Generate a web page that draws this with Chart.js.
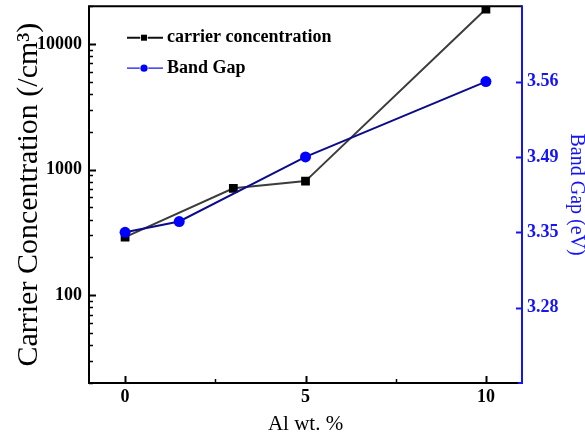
<!DOCTYPE html>
<html><head><meta charset="utf-8">
<script src="https://cdn.jsdelivr.net/npm/chart.js@4/dist/chart.umd.min.js"></script>
<style>html,body{margin:0;padding:0;background:#fff;}#wrap{width:585px;height:437px;}</style>
</head><body><div id="wrap"><canvas id="c" width="585" height="437"></canvas></div>
<script>
// ---- data ----
const AL_WT_CARRIER = [0, 3, 5, 10];
const CARRIER_CONC = [290, 710, 810, 19000];
const AL_WT_BANDGAP = [0, 1.5, 5, 10];
const BAND_GAP = [3.35, 3.37, 3.49, 3.56];
// ---- ticks ----
const X_TICKS = [0, 2.5, 5, 7.5, 10];
const X_TICK_LABELS = [0, 5, 10];
const X_RANGE = [-1, 11];
const Y_RANGE = [20, 20000];
const Y_TICK_LABELS = [100, 1000, 10000];
const BAND_BREAKS = [3.21, 3.28, 3.35, 3.49, 3.56, 3.63];
const BAND_TICK_LABELS = [3.28, 3.35, 3.49, 3.56];

const SERIF = "'Liberation Serif', 'Times New Roman', serif";
const BLUE = '#1414f5';

const LinearScale = Chart.LinearScale || Chart.registry.getScale('linear');
class BreakScale extends LinearScale {
  getPixelForValue(v) {
    if (v === null || v === undefined) return NaN;
    const b = BAND_BREAKS, n = b.length - 1;
    let i = 0;
    while (i < n - 1 && v > b[i + 1]) i++;
    return this.getPixelForDecimal((i + (v - b[i]) / (b[i + 1] - b[i])) / n);
  }
  getValueForPixel(p) {
    const b = BAND_BREAKS, n = b.length - 1;
    const d = this.getDecimalForPixel(p) * n;
    const i = Math.max(0, Math.min(n - 1, Math.floor(d)));
    return b[i] + (d - i) * (b[i + 1] - b[i]);
  }
}
BreakScale.id = 'breakLinear';
BreakScale.defaults = {};
Chart.register(BreakScale);

function zeroPad(s) { s.paddingTop = 0; s.paddingBottom = 0; s.paddingLeft = 0; s.paddingRight = 0; }

const framePlugin = {
  id: 'frame',
  afterDraw(chart) {
    const { ctx, chartArea: { left, right, top, bottom }, scales } = chart;
    ctx.save();
    ctx.lineCap = 'butt';
    // ticks
    ctx.strokeStyle = '#000';
    const yS = scales.y;
    for (let d = 10; d <= 10000; d *= 10) {
      for (let m = 1; m <= 9; m++) {
        const v = m * d;
        if (v < Y_RANGE[0] || v > Y_RANGE[1]) continue;
        const major = Y_TICK_LABELS.includes(v);
        const py = Math.round(yS.getPixelForValue(v)) + 0.5;
        ctx.lineWidth = major ? 2 : 1.5;
        ctx.beginPath(); ctx.moveTo(left, py); ctx.lineTo(left + (major ? 7 : 4), py); ctx.stroke();
      }
    }
    const xS = scales.x;
    X_TICKS.forEach(v => {
      const major = X_TICK_LABELS.includes(v);
      const px = Math.round(xS.getPixelForValue(v)) + 0.5;
      ctx.lineWidth = major ? 2 : 1.5;
      ctx.beginPath(); ctx.moveTo(px, bottom); ctx.lineTo(px, bottom - (major ? 7 : 4)); ctx.stroke();
    });
    const y2 = scales.y2;
    ctx.strokeStyle = BLUE;
    BAND_TICK_LABELS.forEach(v => {
      const py = Math.round(y2.getPixelForValue(v)) + 0.5;
      ctx.lineWidth = 2;
      ctx.beginPath(); ctx.moveTo(right, py); ctx.lineTo(right - 6, py); ctx.stroke();
    });
    // frame
    ctx.lineWidth = 2;
    ctx.strokeStyle = '#000';
    ctx.beginPath(); ctx.moveTo(right, top); ctx.lineTo(left, top); ctx.lineTo(left, bottom); ctx.lineTo(right - 4, bottom); ctx.stroke();
    ctx.strokeStyle = BLUE;
    ctx.beginPath(); ctx.moveTo(right - 4, bottom); ctx.lineTo(right, bottom); ctx.lineTo(right, top - 1); ctx.stroke();
    ctx.restore();
  }
};

const legendPlugin = {
  id: 'innerLegend',
  afterDatasetsDraw(chart) {
    const { ctx, chartArea: { left, top } } = chart;
    const ds = chart.data.datasets;
    const x0 = left + 38, x1 = left + 74, xm = left + 55, tx = left + 78;
    const rows = [top + 31.5, top + 62];
    ctx.save();
    ds.forEach((d, i) => {
      const y = rows[i];
      ctx.strokeStyle = i === 0 ? '#111' : BLUE;
      ctx.lineWidth = i === 0 ? 2 : 1.2;
      ctx.beginPath(); ctx.moveTo(x0, y); ctx.lineTo(x1, y); ctx.stroke();
      ctx.fillStyle = d.pointBackgroundColor;
      ctx.strokeStyle = '#fff';
      ctx.lineWidth = 1.5;
      ctx.beginPath();
      if (d.pointStyle === 'rect') ctx.rect(xm - 3, y - 3, 6, 6);
      else ctx.arc(xm, y, 3.6, 0, Math.PI * 2);
      ctx.stroke(); ctx.fill();
      ctx.fillStyle = '#000';
      ctx.font = 'bold 18px ' + SERIF;
      ctx.textBaseline = 'middle';
      ctx.textAlign = 'left';
      ctx.fillText(d.label, tx, y);
    });
    ctx.restore();
  }
};

new Chart(document.getElementById('c'), {
  type: 'line',
  data: {
    datasets: [
      {
        label: 'carrier concentration',
        data: AL_WT_CARRIER.map((x, i) => ({ x, y: CARRIER_CONC[i] })),
        xAxisID: 'x', yAxisID: 'y',
        borderColor: '#3c3c3c', borderWidth: 2,
        pointStyle: 'rect', pointRadius: 6.2,
        pointBackgroundColor: '#000', pointBorderColor: '#000', pointBorderWidth: 0,
        tension: 0, order: 2
      },
      {
        label: 'Band Gap',
        data: AL_WT_BANDGAP.map((x, i) => ({ x, y: BAND_GAP[i] })),
        xAxisID: 'x', yAxisID: 'y2',
        borderColor: '#0c0c8a', borderWidth: 2,
        pointStyle: 'circle', pointRadius: 5.5,
        pointBackgroundColor: '#0000ff', pointBorderColor: '#0000ff', pointBorderWidth: 0,
        tension: 0, order: 1
      }
    ]
  },
  options: {
    responsive: false,
    devicePixelRatio: 1,
    animation: false,
    layout: { padding: { top: 6, left: 0, right: 0, bottom: 0 } },
    plugins: { legend: { display: false }, tooltip: { enabled: false } },
    scales: {
      x: {
        type: 'linear', position: 'bottom',
        min: X_RANGE[0], max: X_RANGE[1],
        afterBuildTicks: s => { s.ticks = X_TICKS.map(v => ({ value: v })); },
        afterFit: s => { s.height = 54; zeroPad(s); },
        grid: { display: false, drawTicks: false },
        border: { display: false },
        ticks: {
          autoSkip: false, maxRotation: 0, padding: 4, color: '#000',
          font: { family: SERIF, size: 18, weight: 'bold' },
          callback: v => X_TICK_LABELS.includes(v) ? String(v) : ''
        },
        title: { display: true, text: 'Al wt. %', color: '#000', font: { family: SERIF, size: 21 }, padding: { top: 0, bottom: 0 } }
      },
      y: {
        type: 'logarithmic', position: 'left',
        min: Y_RANGE[0], max: Y_RANGE[1],
        afterBuildTicks: s => { s.ticks = Y_TICK_LABELS.map(v => ({ value: v })); },
        afterFit: s => { s.width = 89; zeroPad(s); },
        grid: { display: false, drawTicks: false },
        border: { display: false },
        ticks: {
          autoSkip: false, padding: 7, color: '#000',
          font: { family: SERIF, size: 18, weight: 'bold' },
          callback: v => String(v)
        },
        title: { display: true, text: 'Carrier Concentration (/cm³)', color: '#000', font: { family: SERIF, size: 30 }, padding: { top: 11, bottom: 0 } }
      },
      y2: {
        type: 'breakLinear', position: 'right',
        min: BAND_BREAKS[0], max: BAND_BREAKS[BAND_BREAKS.length - 1],
        afterBuildTicks: s => { s.ticks = BAND_TICK_LABELS.map(v => ({ value: v })); },
        afterFit: s => { s.width = 63; zeroPad(s); },
        grid: { display: false, drawTicks: false },
        border: { display: false },
        ticks: {
          autoSkip: false, padding: 5, color: BLUE,
          font: { family: SERIF, size: 18, weight: 'bold' },
          callback: v => Number(v).toFixed(2)
        },
        title: { display: true, text: 'Band Gap (eV)', color: BLUE, font: { family: SERIF, size: 20 }, padding: { top: -3, bottom: 0 } }
      }
    }
  },
  plugins: [framePlugin, legendPlugin]
});
</script>
</body></html>
